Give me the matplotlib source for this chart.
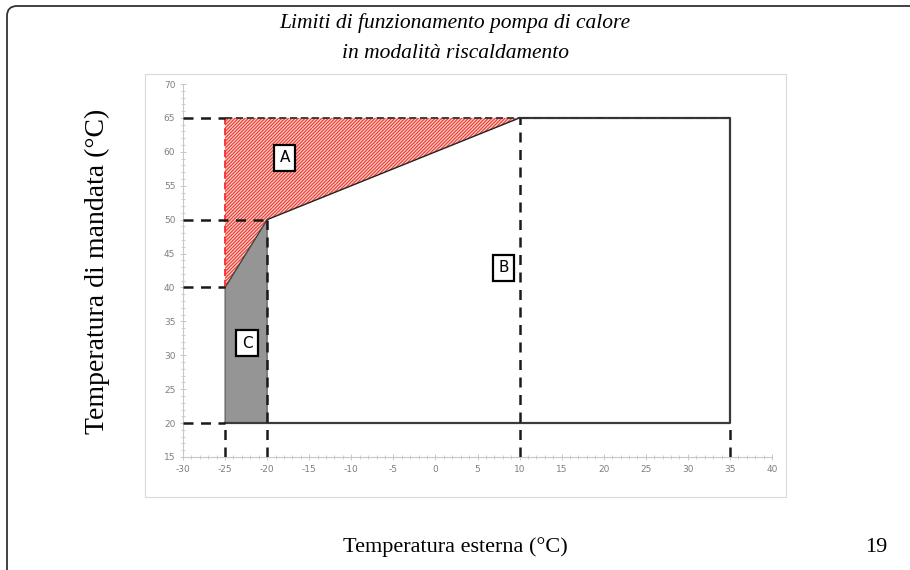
import numpy as np
import matplotlib.pyplot as plt
from matplotlib import patches
from matplotlib.ticker import MultipleLocator

plt.rcParams['hatch.linewidth'] = 0.9
plt.rcParams['axes.unicode_minus'] = False

# Dati (temperatura esterna, temperatura di mandata)
area_a_x = [-25, -25, 10, -20]
area_a_y = [40, 65, 65, 50]
area_c_x = [-25, -25, -20, -20]
area_c_y = [20, 40, 50, 20]
limite_x = [-25, 35, 35, 10]          # contorno zona B
limite_y = [20, 20, 65, 65]
diag_x = [-20, 10]
diag_y = [50, 65]

# linee guida tratteggiate: (x punto, y punto)
guide_h = [(-25, 65), (-20, 50), (-25, 40), (-25, 20)]
guide_v = [(-25, 20), (-20, 50), (10, 65), (35, 20)]

etichette = ["A", "B", "C"]
etichette_x = [-17.9, 8.1, -22.4]
etichette_y = [59.1, 42.9, 31.8]

titolo = "Limiti di funzionamento pompa di calore\nin modalità riscaldamento"
xlabel = "Temperatura esterna (°C)"
ylabel = "Temperatura di mandata (°C)"

# Grafico
fig = plt.figure(figsize=(9.1, 5.7), dpi=100)

# cornice esterna arrotondata
cornice = patches.FancyBboxPatch((0.07, -0.5), 9.6, 6.14,
                                 boxstyle="round,pad=0,rounding_size=0.1",
                                 transform=fig.dpi_scale_trans, fill=False,
                                 lw=1.3, ec='#333333')
fig.patches.append(cornice)

# area del grafico (stile excel)
riquadro = patches.Rectangle((145/910, (570-497)/570), (786-145)/910, (497-74)/570,
                             transform=fig.transFigure, fill=False,
                             lw=0.8, ec='#d9d9d9')
fig.patches.append(riquadro)

ax = fig.add_axes([183/910, (570-457)/570, 589/910, 373/570])
ax.set_xlim(-30, 40)
ax.set_ylim(15, 70)

# Zona A (tratteggio rosso)
ax.fill(area_a_x, area_a_y, facecolor='#fcd6d2', edgecolor='#ee4036',
        hatch='//////////', lw=0, zorder=2)
# Zona C (grigio)
ax.fill(area_c_x, area_c_y, facecolor='#959595', edgecolor='#555555',
        lw=0.8, zorder=2)

# contorni
ax.plot(limite_x, limite_y, color='#3a3a3a', lw=1.6, zorder=3)
ax.plot(diag_x, diag_y, color='#222222', lw=1.0, zorder=3)
ax.plot([area_a_x[0], area_c_x[2]], [area_a_y[0], area_c_y[2]],
        color='#444444', lw=0.8, zorder=3)
ax.plot([area_a_x[0], area_a_x[1]], [area_a_y[0], area_a_y[1]],
        color='#ff2a2a', lw=1.3, ls=(0, (4, 2)), zorder=4)
ax.plot([area_a_x[1], area_a_x[2]], [area_a_y[1], area_a_y[2]],
        color='#333333', lw=1.3, ls=(0, (4, 2)), zorder=4)
ax.plot([area_a_x[2], limite_x[2]], [area_a_y[2], limite_y[2]],
        color='#333333', lw=1.3, ls=(0, (5, 2)), zorder=4)

# linee guida
for x, y in guide_h:
    ax.plot([-30, x], [y, y], color='#1a1a1a', lw=1.8, ls=(0, (4, 3)), zorder=5)
for x, y in guide_v:
    ax.plot([x, x], [15, y], color='#1a1a1a', lw=1.8, ls=(0, (4, 3)), zorder=5)

# etichette zone
for t, x, y in zip(etichette, etichette_x, etichette_y):
    ax.text(x, y, t, ha='center', va='center', fontsize=11, zorder=6,
            bbox=dict(boxstyle='square,pad=0.35', fc='white', ec='black', lw=1.6))

# assi
for s in ['top', 'right']:
    ax.spines[s].set_visible(False)
for s in ['left', 'bottom']:
    ax.spines[s].set_color('#c8c8c8')
    ax.spines[s].set_linewidth(0.8)
ax.xaxis.set_major_locator(MultipleLocator(5))
ax.yaxis.set_major_locator(MultipleLocator(5))
ax.xaxis.set_minor_locator(MultipleLocator(1))
ax.yaxis.set_minor_locator(MultipleLocator(1))
ax.tick_params(which='major', length=4, width=0.7, color='#c8c8c8',
               labelsize=6.5, labelcolor='#7f7f7f', direction='inout')
ax.tick_params(which='minor', length=3, width=0.6, color='#c8c8c8', direction='inout')
ax.set_facecolor('none')

# testi
fig.text(0.5, 1 - 38/570, titolo, ha='center', va='center', fontsize=15.5,
         family='Liberation Serif', style='italic', linespacing=1.75)
fig.text(97/910, 1 - 271/570, ylabel, rotation=90, ha='center', va='center',
         fontsize=20, family='Liberation Serif')
fig.text(455/910, 1 - 547/570, xlabel, ha='center', va='center',
         fontsize=16, family='Liberation Serif')
fig.text(876/910, 1 - 548/570, "19", ha='center', va='center',
         fontsize=16, family='Liberation Serif')

plt.savefig("out.png", dpi=100)
